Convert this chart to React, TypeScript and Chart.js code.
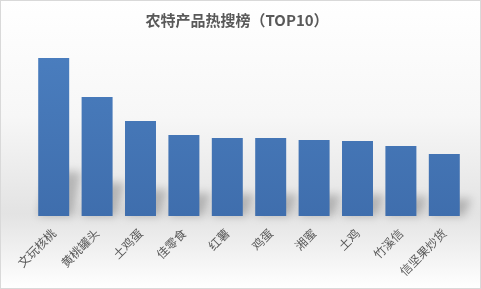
import React, { useEffect, useRef } from "react";
import { Chart, registerables } from "chart.js";

Chart.register(...registerables);

const titleText = "农特产品热搜榜（TOP10）";
const categories = ["文玩核桃", "黄桃罐头", "土鸡蛋", "佳零食", "红薯", "鸡蛋", "湘蜜", "土鸡", "竹溪信", "信坚果炒货"];
const searchValues = [158, 119, 95, 81, 78, 78, 76, 75, 70, 62];
const axisMax = 180;

const bgPlugin = {
  id: "bgPlugin",
  beforeDraw(chart: any) {
    const { ctx, width, height } = chart;
    ctx.save();
    const g = ctx.createLinearGradient(0, 0, 0, height);
    g.addColorStop(0, "#ffffff");
    g.addColorStop(0.4, "#f7f7f7");
    g.addColorStop(0.74, "#e3e3e3");
    g.addColorStop(1, "#ffffff");
    ctx.fillStyle = g;
    ctx.fillRect(0, 0, width, height);
    ctx.strokeStyle = "#d9d9d9";
    ctx.lineWidth = 1;
    ctx.strokeRect(0.5, 0.5, width - 1, height - 1);
    ctx.fillStyle = "#595959";
    ctx.font = "bold 15px 'Noto Sans CJK SC', sans-serif";
    ctx.textAlign = "center";
    ctx.textBaseline = "middle";
    ctx.fillText(titleText, 237, 20);
    ctx.restore();
  },
  beforeDatasetsDraw(chart: any) {
    const { ctx } = chart;
    const meta = chart.getDatasetMeta(0);
    ctx.save();
    ctx.filter = "blur(4px)";
    ctx.fillStyle = "rgba(0,0,0,0.22)";
    meta.data.forEach((bar: any) => {
      const w = bar.width;
      const bottom = bar.base;
      const h = (bottom - bar.y) * 0.28;
      const l = bar.x - w / 2;
      ctx.beginPath();
      ctx.moveTo(l, bottom);
      ctx.lineTo(l + w + 4, bottom);
      ctx.lineTo(l + w + 12, bottom - h);
      ctx.lineTo(l + 10, bottom - h);
      ctx.closePath();
      ctx.fill();
    });
    ctx.restore();
  },
};

export default function App() {
  const ref = useRef<HTMLCanvasElement>(null);
  useEffect(() => {
    const canvas = ref.current!;
    const ctx = canvas.getContext("2d")!;
    const grad = ctx.createLinearGradient(0, 36, 0, 216);
    grad.addColorStop(0, "#4b7fc0");
    grad.addColorStop(1, "#3f6ead");
    const chart = new Chart(canvas, {
      type: "bar",
      data: {
        labels: categories,
        datasets: [
          {
            data: searchValues,
            backgroundColor: grad,
            borderWidth: 0,
            barPercentage: 0.714,
            categoryPercentage: 1,
          },
        ],
      },
      options: {
        animation: false,
        responsive: false,
        devicePixelRatio: 1,
        layout: { padding: { left: 32, right: 15, top: 36, bottom: 0 } },
        plugins: { legend: { display: false }, title: { display: false }, tooltip: { enabled: false } },
        scales: {
          x: {
            grid: { display: false },
            border: { display: false },
            ticks: {
              color: "#595959",
              font: { family: "'Noto Sans CJK SC', sans-serif", size: 12 },
              minRotation: 45,
              maxRotation: 45,
              autoSkip: false,
              padding: 2,
            },
            afterFit(scale: any) {
              scale.height = 73;
            },
          },
          y: {
            display: false,
            min: 0,
            max: axisMax,
          },
        },
      },
      plugins: [bgPlugin],
    });
    return () => chart.destroy();
  }, []);
  return (
    <div style={{ position: "fixed", left: 0, top: 0, width: 481, height: 289 }}>
      <canvas ref={ref} width={481} height={289} style={{ display: "block", width: 481, height: 289 }} />
    </div>
  );
}
